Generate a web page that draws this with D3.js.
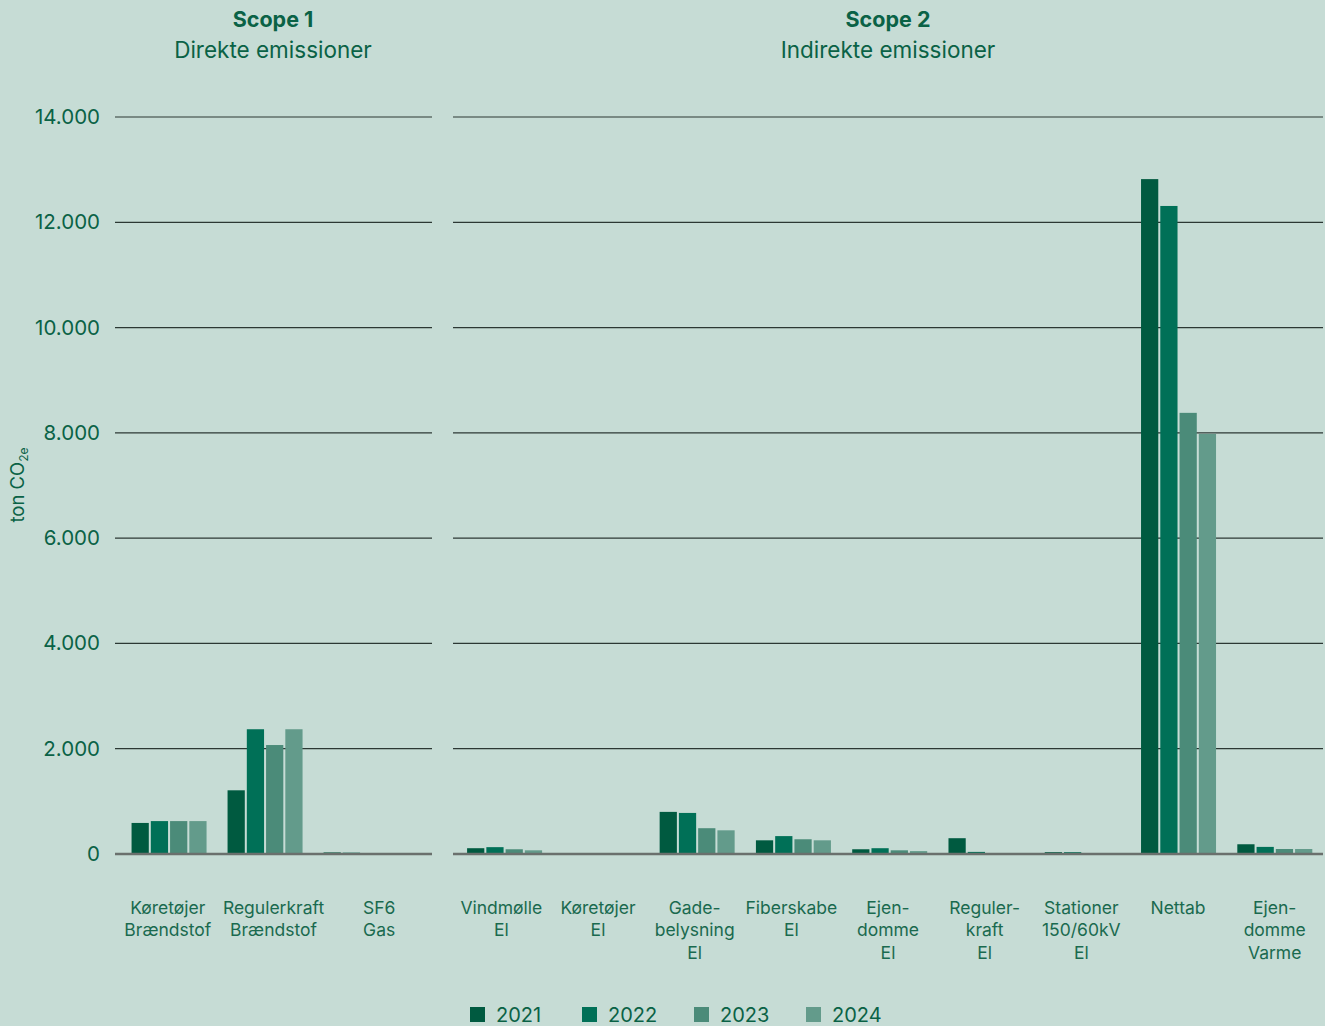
<!DOCTYPE html>
<html>
<head>
    <meta charset="UTF-8">
    <title>Scope 1 og 2 emissioner</title>
    <script src="https://d3js.org/d3.v7.min.js"></script>
    <style>
        body { margin: 0; background: #c6dcd5; }
        svg { display: block; font-family: Inter, "Noto Sans", sans-serif; }
        .grid { stroke: #2c3834; stroke-width: 1.2px; }
        .base { stroke: #6a706d; stroke-width: 2.5px; }
        .tick { fill: #0a6246; font-size: 20.5px; }
        .cat { fill: #1a6a4f; font-size: 17.5px; }
    </style>
</head>
<body>
    <svg width="1325" height="1026"></svg>
    <script>
        // data
        var years = ["2021", "2022", "2023", "2024"];
        var colors = ["#005a40", "#007057", "#4b8b79", "#639b8b"];
        var yTicks = [0, 2000, 4000, 6000, 8000, 10000, 12000, 14000];

        var scope1Cats = ["Køretøjer Brændstof", "Regulerkraft Brændstof", "SF6 Gas"];
        var scope1Labels = [["Køretøjer", "Brændstof"], ["Regulerkraft", "Brændstof"], ["SF6", "Gas"]];
        var scope1Values = [
            [590, 625, 625, 625],
            [1210, 2370, 2070, 2370],
            [30, 25, 10, 5]
        ];

        var scope2Cats = ["Vindmølle El", "Køretøjer El", "Gadebelysning El", "Fiberskabe El",
                          "Ejendomme El", "Regulerkraft El", "Stationer El", "Nettab", "Ejendomme Varme"];
        var scope2Labels = [["Vindmølle", "El"], ["Køretøjer", "El"], ["Gade-", "belysning", "El"],
                            ["Fiberskabe", "El"], ["Ejen-", "domme", "El"], ["Reguler-", "kraft", "El"],
                            ["Stationer", "150/60kV", "El"], ["Nettab"], ["Ejen-", "domme", "Varme"]];
        var scope2Values = [
            [110, 130, 90, 70],
            [15, 10, 8, 5],
            [800, 780, 490, 450],
            [260, 340, 280, 260],
            [90, 110, 70, 55],
            [300, 40, 12, 8],
            [35, 35, 10, 8],
            [12820, 12310, 8380, 7980],
            [185, 135, 95, 95]
        ];

        var svg = d3.select("svg");
        var textColor = "#0a6246";

        var y = d3.scaleLinear().domain([0, 14000]).range([854, 117]);

        var inner = d3.scaleBand().domain(years).range([0, 75]).paddingInner(0.105);

        function drawPanel(cats, labels, values, panelRange, barRange, title, subtitle, titleX) {
            var g = svg.append("g");

            // gridlines
            g.selectAll(".grid")
                .data(yTicks.filter(function(d) { return d > 0; }))
                .enter().append("line")
                .attr("class", "grid")
                .attr("x1", panelRange[0]).attr("x2", panelRange[1])
                .attr("y1", function(d) { return y(d); })
                .attr("y2", function(d) { return y(d); });

            var x = d3.scaleBand().domain(cats).range(barRange).paddingInner(0.22).paddingOuter(0.11);
            var xl = d3.scaleBand().domain(cats).range(panelRange);

            var groups = g.selectAll(".grp")
                .data(cats)
                .enter().append("g")
                .attr("transform", function(d) { return "translate(" + x(d) + ",0)"; });

            groups.selectAll("rect")
                .data(function(d, i) { return values[i].map(function(v, j) { return {year: years[j], v: v, c: colors[j]}; }); })
                .enter().append("rect")
                .attr("x", function(d) { return inner(d.year); })
                .attr("width", inner.bandwidth())
                .attr("y", function(d) { return y(d.v); })
                .attr("height", function(d) { return y(0) - y(d.v); })
                .attr("fill", function(d) { return d.c; });

            // baseline
            g.append("line")
                .attr("class", "base")
                .attr("x1", panelRange[0]).attr("x2", panelRange[1])
                .attr("y1", y(0)).attr("y2", y(0));

            // category labels
            var lab = g.selectAll(".cat")
                .data(cats)
                .enter().append("text")
                .attr("class", "cat")
                .attr("text-anchor", "middle");
            lab.each(function(d, i) {
                var t = d3.select(this);
                var cx = xl(d) + xl.bandwidth() / 2;
                labels[i].forEach(function(line, k) {
                    t.append("tspan").attr("x", cx).attr("y", 914 + k * 22.3).text(line);
                });
            });

            // titles
            svg.append("text")
                .attr("x", titleX).attr("y", 27)
                .attr("text-anchor", "middle")
                .attr("fill", textColor)
                .style("font-size", "21.5px").style("font-weight", "700")
                .text(title);
            svg.append("text")
                .attr("x", titleX).attr("y", 58)
                .attr("text-anchor", "middle")
                .attr("fill", textColor)
                .style("font-size", "22.5px")
                .text(subtitle);
        }

        drawPanel(scope1Cats, scope1Labels, scope1Values, [115, 432], [121, 409], "Scope 1", "Direkte emissioner", 273);
        drawPanel(scope2Cats, scope2Labels, scope2Values, [453, 1323], [456.5, 1323], "Scope 2", "Indirekte emissioner", 888);

        // y tick labels
        svg.selectAll(".tick")
            .data(yTicks)
            .enter().append("text")
            .attr("class", "tick")
            .attr("x", 100)
            .attr("y", function(d) { return y(d) + 7; })
            .attr("text-anchor", "end")
            .text(function(d) { return d3.format(",")(d).replace(/,/g, "."); });

        // y axis title
        var yt = svg.append("text")
            .attr("transform", "translate(24,485) rotate(-90)")
            .attr("text-anchor", "middle")
            .attr("fill", textColor)
            .style("font-size", "18.5px");
        yt.append("tspan").text("ton CO");
        yt.append("tspan").attr("dy", 4).style("font-size", "12px").text("2e");

        // legend
        var leg = svg.selectAll(".leg")
            .data(years)
            .enter().append("g")
            .attr("transform", function(d, i) { return "translate(" + (470 + i * 112) + ",1007)"; });
        leg.append("rect")
            .attr("width", 15).attr("height", 15)
            .attr("fill", function(d, i) { return colors[i]; });
        leg.append("text")
            .attr("x", 26).attr("y", 15)
            .attr("fill", textColor)
            .style("font-size", "20px")
            .text(function(d) { return d; });
    </script>
</body>
</html>
